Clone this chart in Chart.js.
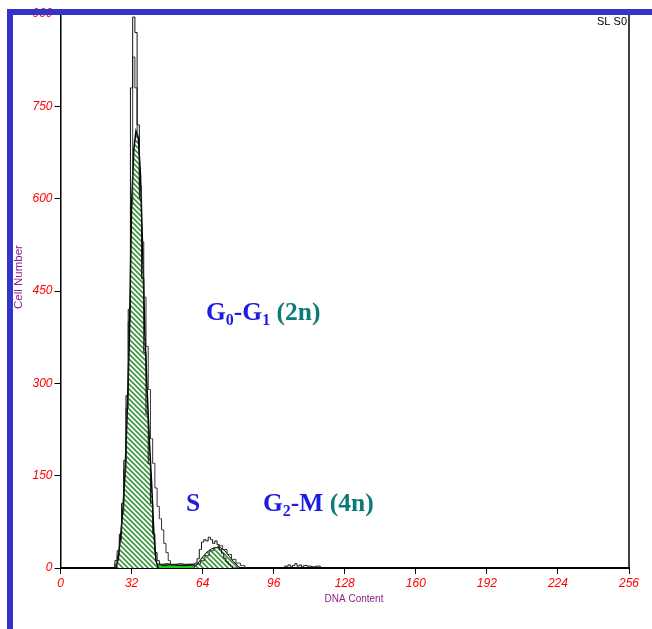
<!DOCTYPE html>
<html>
<head>
<meta charset="utf-8">
<script src="https://cdn.jsdelivr.net/npm/chart.js@4/dist/chart.umd.min.js"></script>
<style>
  body { margin: 0; background: #fff; }
  canvas { display: block; }
</style>
</head>
<body>
<canvas id="dnaChart" width="652" height="629"></canvas>
<script>
// channel numbers and cell counts
const fitChannels = [25, 26, 27, 28, 29, 30, 31, 32, 33, 34, 35, 36, 37, 38, 39, 40, 41, 42, 43, 44];
const fitCounts = [0, 15, 50, 90, 150, 250, 370, 590, 680, 710, 700, 640, 516, 380, 290, 208, 140, 60, 12, 0];

const sChannels = [38, 40, 42, 44, 46, 48, 50, 52, 54, 56, 58, 60, 62];
const sCounts = [0, 5, 6, 6, 6, 7, 6, 6, 7, 6, 6, 6, 0];

const g2Channels = [60, 62, 64, 66, 68, 70, 71, 72, 74, 76, 78, 80, 81];
const g2Counts = [0, 8, 18, 26, 31, 33, 34, 33, 28, 19, 10, 3, 0];

const rawAChannels = [24, 25, 26, 27, 28, 29, 30, 31, 32, 33, 34, 35, 36, 37, 38, 39, 40, 41, 42, 43, 44, 45, 46,
  50, 55, 60, 61, 62, 63, 64, 65, 66, 67, 68, 69, 70, 71, 72, 73, 74, 75, 76, 77, 78,
  100, 102, 103, 104, 105, 106, 107, 108, 109, 110, 112, 114, 116, 118];
const rawACounts = [0, 12, 28, 55, 105, 175, 280, 420, 780, 895, 870, 720, 600, 470, 350, 250, 170, 105, 55, 25, 12, 6, 4,
  5, 4, 6, 8, 15, 30, 42, 46, 44, 50, 46, 40, 44, 38, 30, 24, 16, 10, 6, 3, 0,
  0, 3, 5, 2, 4, 7, 3, 5, 2, 4, 3, 2, 3, 0];

const rawBChannels = [24, 25, 26, 27, 28, 29, 30, 31, 32, 33, 34, 35, 36, 37, 38, 39, 40, 41, 42, 43, 44, 45, 46, 47, 48, 49, 50,
  55, 60, 62, 64, 66, 68, 70, 72, 74, 76, 78, 80, 82, 84];
const rawBCounts = [0, 6, 20, 45, 90, 160, 260, 400, 590, 830, 780, 700, 620, 530, 440, 360, 290, 210, 170, 130, 100, 80, 62, 40, 25, 12, 5,
  4, 4, 6, 12, 20, 28, 33, 36, 30, 22, 14, 8, 4, 0];

const xTicks = [0, 32, 64, 96, 128, 160, 192, 224, 256];
const yTicks = [0, 150, 300, 450, 600, 750, 900];

function toPoints(xs, ys) {
  return xs.map((x, i) => ({ x: x, y: ys[i] }));
}

function hatch() {
  const s = 5;
  const c = document.createElement('canvas');
  c.width = s; c.height = s;
  const g = c.getContext('2d');
  g.fillStyle = '#ffffff';
  g.fillRect(0, 0, s, s);
  g.strokeStyle = '#3a963e';
  g.lineWidth = 1.6;
  g.beginPath();
  g.moveTo(-1, -1); g.lineTo(s + 1, s + 1);
  g.moveTo(-1, s - 1); g.lineTo(1, s + 1);
  g.moveTo(s - 1, -1); g.lineTo(s + 1, 1);
  g.stroke();
  return g.createPattern(c, 'repeat');
}

function drawParts(ctx, x, y, parts) {
  parts.forEach(p => {
    ctx.font = 'bold ' + (p.sub ? 16 : 25.5) + 'px "Liberation Serif", "Times New Roman", serif';
    ctx.fillStyle = p.color;
    ctx.fillText(p.t, x, y + (p.sub ? 5 : 0));
    x += ctx.measureText(p.t).width;
  });
}

const blue = '#1d1de0';
const teal = '#0b7b78';

const decorations = {
  id: 'decorations',
  beforeDraw(chart) {
    const ctx = chart.ctx;
    ctx.save();
    ctx.fillStyle = '#ffffff';
    ctx.fillRect(0, 0, chart.width, chart.height);
    ctx.restore();
  },
  afterDraw(chart) {
    const ctx = chart.ctx;
    const a = chart.chartArea;
    ctx.save();
    // right frame line
    ctx.strokeStyle = '#000';
    ctx.lineWidth = 1.5;
    ctx.beginPath();
    ctx.moveTo(a.right, a.top);
    ctx.lineTo(a.right, a.bottom);
    ctx.stroke();

    // blue slide border
    ctx.fillStyle = '#3434c8';
    ctx.fillRect(7, 9, chart.width - 7, 6);
    ctx.fillRect(7, 9, 6, chart.height - 9);

    ctx.fillStyle = '#000';
    ctx.font = '11px Arial, "Liberation Sans", sans-serif';
    ctx.textAlign = 'right';
    ctx.textBaseline = 'middle';
    ctx.fillText('SL S0', 627, 22);

    ctx.fillStyle = '#8b1f8b';
    ctx.textAlign = 'center';
    ctx.font = '10px Arial, "Liberation Sans", sans-serif';
    ctx.fillText('DNA Content', 354, 599);
    ctx.save();
    ctx.translate(19, 277);
    ctx.rotate(-Math.PI / 2);
    ctx.font = '11.5px Arial, "Liberation Sans", sans-serif';
    ctx.fillText('Cell Number', 0, 0);
    ctx.restore();

    ctx.textAlign = 'left';
    ctx.textBaseline = 'alphabetic';
    drawParts(ctx, 206, 320, [
      { t: 'G', color: blue }, { t: '0', sub: true, color: blue },
      { t: '-G', color: blue }, { t: '1', sub: true, color: blue },
      { t: ' (2n)', color: teal }
    ]);
    drawParts(ctx, 186, 511, [{ t: 'S', color: blue }]);
    drawParts(ctx, 263, 511, [
      { t: 'G', color: blue }, { t: '2', sub: true, color: blue },
      { t: '-M', color: blue }, { t: ' (4n)', color: teal }
    ]);
    ctx.restore();
  }
};

const tickFont = { family: 'Arial, "Liberation Sans", sans-serif', size: 12, style: 'italic' };
const pattern = hatch();

new Chart(document.getElementById('dnaChart').getContext('2d'), {
  type: 'line',
  data: {
    datasets: [
      {
        data: toPoints(rawAChannels, rawACounts),
        borderColor: '#111',
        borderWidth: 1,
        stepped: 'middle',
        pointRadius: 0,
        fill: false,
        order: 1
      },
      {
        data: toPoints(rawBChannels, rawBCounts),
        borderColor: '#333',
        borderWidth: 1,
        stepped: 'middle',
        pointRadius: 0,
        fill: false,
        order: 2
      },
      {
        data: toPoints(fitChannels, fitCounts),
        borderColor: '#000',
        borderWidth: 1.5,
        backgroundColor: pattern,
        pointRadius: 0,
        fill: 'origin',
        order: 3
      },
      {
        data: toPoints(g2Channels, g2Counts),
        borderColor: '#000',
        borderWidth: 1,
        backgroundColor: pattern,
        pointRadius: 0,
        fill: 'origin',
        order: 4
      },
      {
        data: toPoints(sChannels, sCounts),
        borderColor: '#000',
        borderWidth: 1,
        backgroundColor: '#22cc22',
        pointRadius: 0,
        fill: 'origin',
        order: 5
      }
    ]
  },
  options: {
    responsive: false,
    animation: false,
    layout: { padding: { left: 0, right: 23, top: 14, bottom: 0 } },
    plugins: { legend: { display: false }, tooltip: { enabled: false } },
    scales: {
      x: {
        type: 'linear',
        min: 0,
        max: 256,
        afterBuildTicks: s => { s.ticks = xTicks.map(v => ({ value: v })); },
        afterFit: s => { s.height = 61; },
        ticks: { color: '#ff0000', font: tickFont, padding: 2, maxRotation: 0 },
        grid: { drawOnChartArea: false, tickLength: 6, color: '#000' },
        border: { color: '#000', width: 2 }
      },
      y: {
        min: 0,
        max: 900,
        afterBuildTicks: s => { s.ticks = yTicks.map(v => ({ value: v })); },
        afterFit: s => { s.width = 60.5; },
        ticks: { color: '#ff0000', font: tickFont, padding: 2 },
        grid: { drawOnChartArea: false, tickLength: 6, color: '#000' },
        border: { color: '#000', width: 1.5 }
      }
    }
  },
  plugins: [decorations]
});
</script>
</body>
</html>
